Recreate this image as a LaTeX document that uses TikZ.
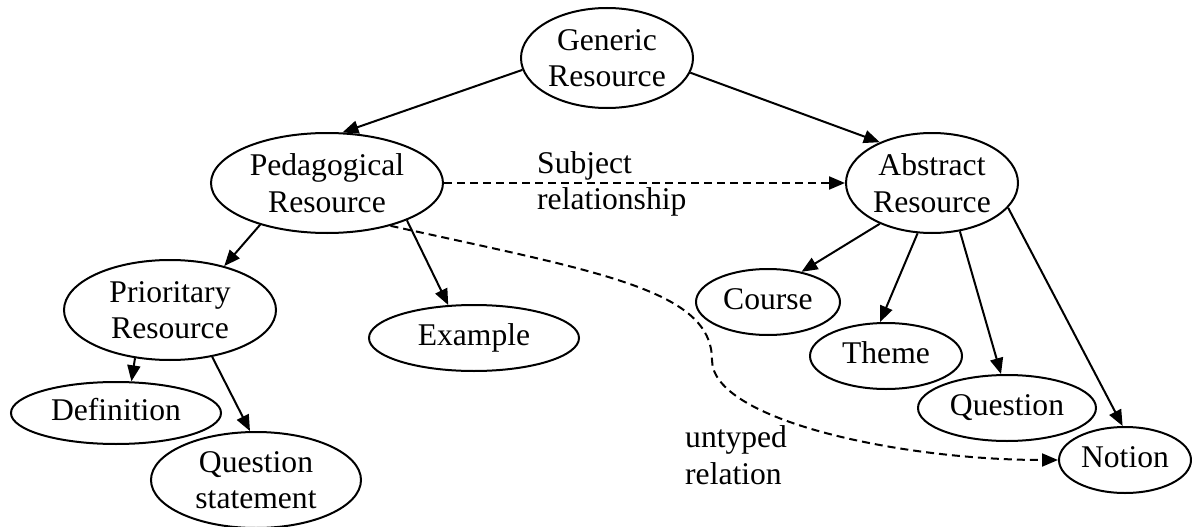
\documentclass[tikz,border=0pt]{standalone}
\usepackage{fontspec}
\setmainfont{Liberation Serif}
\usetikzlibrary{arrows.meta,shapes.geometric}
\begin{document}
\begin{tikzpicture}[x=1pt,y=-1pt,
  every node/.style={font=\fontsize{31.6}{36.5}\selectfont, inner sep=0pt},
  el/.style={ellipse, draw, line width=2pt, align=center},
  one/.style={text height=21.6pt, text depth=7pt},
  conn/.style={line width=2pt, -{Triangle[length=16pt,width=13pt]}},
  dconn/.style={conn, dash pattern=on 8pt off 5pt},
  lbl/.style={align=left, anchor=west}]
\useasboundingbox (0,0) rectangle (1192,527);
% nodes
\node[el, minimum width=172pt, minimum height=100pt] (gen) at (607,58) {Generic\\Resource};
\node[el, minimum width=232pt, minimum height=100pt] (ped) at (327,183) {Pedagogical\\Resource};
\node[el, minimum width=172pt, minimum height=100pt] (abs) at (932,183) {Abstract\\Resource};
\node[el, minimum width=212pt, minimum height=100pt] (pri) at (170,310) {Prioritary\\Resource};
\node[el, one, minimum width=210pt, minimum height=62pt] (def) at (116,413) {Definition};
\node[el, minimum width=210pt, minimum height=96pt] (qs) at (256,480) {Question\\statement};
\node[el, one, minimum width=210pt, minimum height=66pt] (ex) at (474,338) {Example};
\node[el, one, minimum width=144pt, minimum height=66pt] (course) at (768,302) {Course};
\node[el, one, minimum width=152pt, minimum height=66pt] (theme) at (886,356) {Theme};
\node[el, one, minimum width=178pt, minimum height=66pt] (quest) at (1007,408) {Question};
\node[el, one, minimum width=132pt, minimum height=66pt] (notion) at (1125,460) {Notion};
% labels
\node[lbl] (subj) at (537,184) {Subject\\relationship};
\node[lbl] (unt) at (685,455) {untyped\\relation};
% connectors
\draw[conn] (gen.188) -- (ped.73);
\draw[conn] (gen.350) -- (abs.142);
\draw[dconn] (ped.east) -- (abs.west);
\draw[conn] (ped.212) -- (pri.39);
\draw[conn] (ped.335) -- (ex.128);
\draw[dconn] (ped.326) .. controls (600,272) and (712,290) .. (712,360)
  .. controls (712,420) and (900,460) .. (notion.west);
\draw[conn] (abs.218) -- (course.42);
\draw[conn] (abs.254) -- (theme.100);
\draw[conn] (abs.300) -- (quest.100);
\draw[conn] (abs.342) -- (notion.94);
\draw[conn] (pri.234) -- (def.64);
\draw[conn] (pri.312) -- (qs.97);
\end{tikzpicture}
\end{document}
